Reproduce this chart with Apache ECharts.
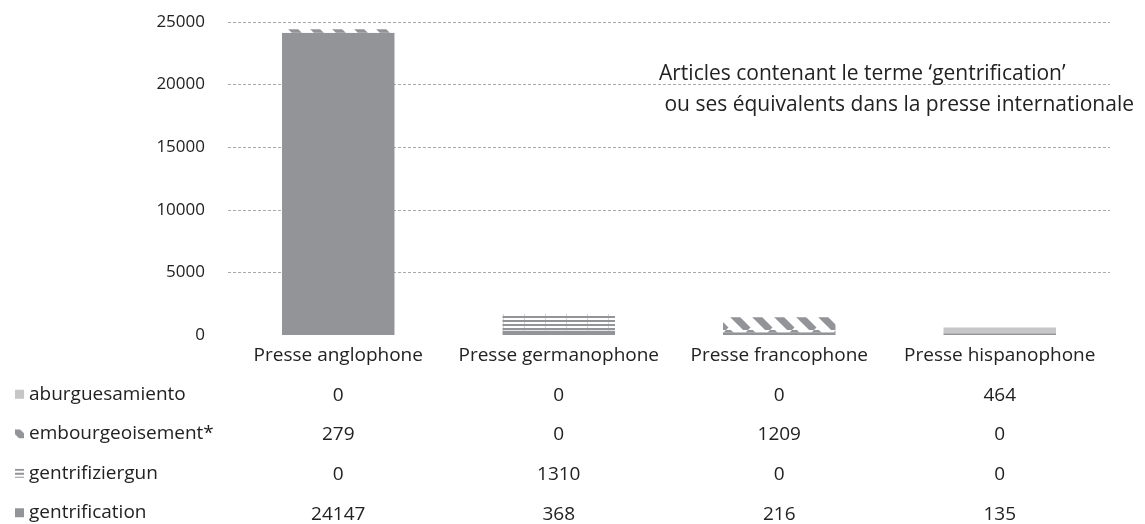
<!DOCTYPE html>
<html>
<head>
<meta charset="utf-8">
<script src="https://cdn.jsdelivr.net/npm/echarts@6/dist/echarts.min.js"></script>
<style>
  html, body { margin: 0; padding: 0; background: #fff; }
  #chart { width: 1145px; height: 524px; }
</style>
</head>
<body>
<div id="chart"></div>
<script>
const categories = ['Presse anglophone', 'Presse germanophone', 'Presse francophone', 'Presse hispanophone'];
const gentrification = [24147, 368, 216, 135];
const gentrifiziergun = [0, 1310, 0, 0];
const embourgeoisement = [279, 0, 1209, 0];
const aburguesamiento = [0, 0, 0, 464];
const yTicks = [0, 5000, 10000, 15000, 20000, 25000];

const FONT = 'Open Sans';
const GRAY = '#939497';
const LIGHT = '#c6c6c6';

function hStripes() {
  const c = document.createElement('canvas');
  c.width = 21; c.height = 4;
  const g = c.getContext('2d');
  g.fillStyle = '#fff'; g.fillRect(0, 0, 21, 4);
  g.fillStyle = GRAY; g.fillRect(0, 0, 21, 2);
  g.fillStyle = '#d6d6d6'; g.fillRect(20, 2, 1, 2);
  return c;
}
function dStripes() {
  const s = 22;
  const c = document.createElement('canvas');
  c.width = s; c.height = s;
  const g = c.getContext('2d');
  g.fillStyle = '#fff'; g.fillRect(0, 0, s, s);
  g.strokeStyle = GRAY; g.lineWidth = 7;
  [-s, 0, s].forEach(function (o) {
    g.beginPath(); g.moveTo(o, 0); g.lineTo(o + s, s); g.stroke();
  });
  return c;
}

const chart = echarts.init(document.getElementById('chart'));

const tableRows = [aburguesamiento, embourgeoisement, gentrifiziergun, gentrification];
const rowOffsets = [39, 78, 118, 158];

const tableAxes = tableRows.map(function (row, i) {
  return {
    type: 'category',
    gridIndex: 0,
    position: 'bottom',
    offset: rowOffsets[i],
    data: row.map(String),
    axisLine: { show: false },
    axisTick: { show: false },
    splitLine: { show: false },
    axisLabel: { interval: 0, margin: 12, fontFamily: FONT, fontSize: 19, color: '#222' }
  };
});

chart.setOption({
  animation: false,
  title: {
    text: 'Articles contenant le terme \u2018gentrification\u2019\n ou ses \u00e9quivalents dans la presse internationale',
    left: 654,
    top: 54,
    textStyle: { fontFamily: FONT, fontSize: 21, fontWeight: 'normal', color: '#222', lineHeight: 31 }
  },
  legend: {
    orient: 'vertical',
    left: 10,
    top: 377,
    height: 160,
    itemWidth: 9,
    itemHeight: 9,
    itemGap: 15,
    icon: 'rect',
    data: ['aburguesamiento', 'embourgeoisement*', 'gentrifiziergun', 'gentrification'],
    textStyle: { fontFamily: FONT, fontSize: 19, color: '#222', lineHeight: 24.5 },
    selectedMode: false
  },
  grid: { left: 228, right: 35, top: 22, bottom: 189 },
  xAxis: [{
    type: 'category',
    data: categories,
    axisLine: { show: false },
    axisTick: { show: false },
    axisLabel: { interval: 0, margin: 11, fontFamily: FONT, fontSize: 19, color: '#222' }
  }].concat(tableAxes),
  yAxis: {
    type: 'value',
    min: yTicks[0],
    max: yTicks[yTicks.length - 1],
    interval: 5000,
    axisLine: { show: false },
    axisTick: { show: false },
    axisLabel: { margin: 23, fontFamily: FONT, fontSize: 17, color: '#222', formatter: function (v) { return String(v); } },
    splitLine: { showMinLine: false, lineStyle: { type: [3, 2], color: '#aaa', width: 1 } }
  },
  series: [
    { name: 'gentrification', type: 'bar', stack: 'a', data: gentrification, barWidth: '51%', itemStyle: { color: GRAY } },
    { name: 'gentrifiziergun', type: 'bar', stack: 'a', data: gentrifiziergun, itemStyle: { color: { image: hStripes(), repeat: 'repeat' } } },
    { name: 'embourgeoisement*', type: 'bar', stack: 'a', data: embourgeoisement, itemStyle: { color: { image: dStripes(), repeat: 'repeat' } } },
    { name: 'aburguesamiento', type: 'bar', stack: 'a', data: aburguesamiento, itemStyle: { color: LIGHT } }
  ]
});
</script>
</body>
</html>
